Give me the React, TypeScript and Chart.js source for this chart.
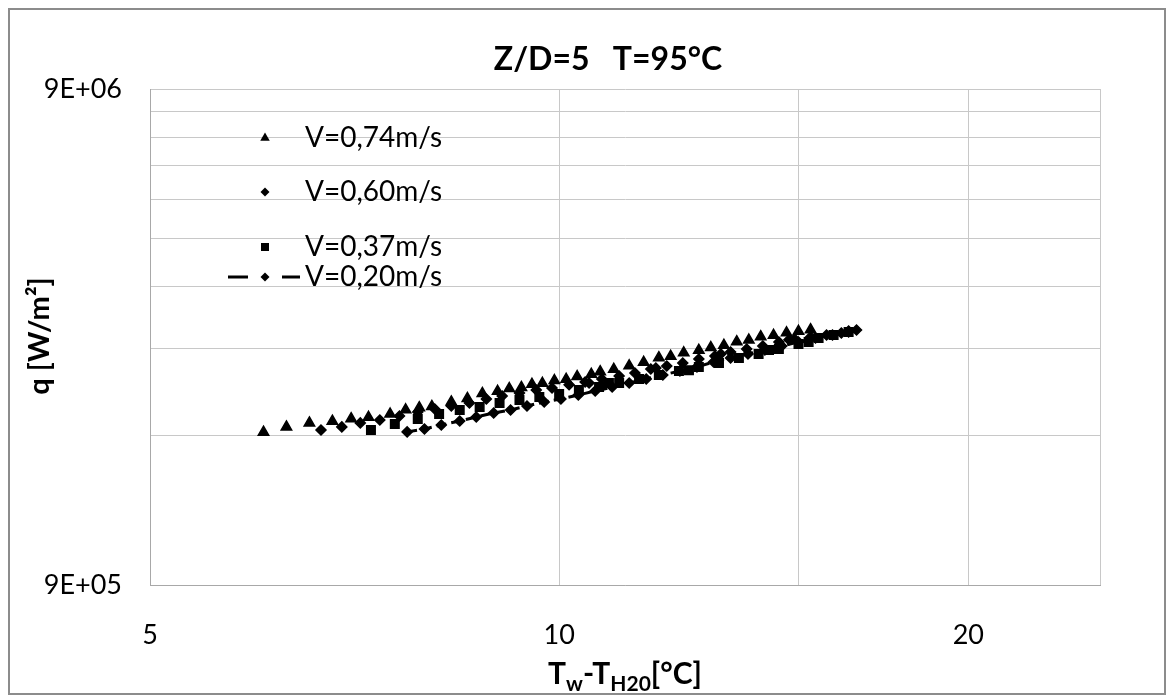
import React, { useEffect, useRef } from 'react';
import { Chart, registerables } from 'chart.js';

Chart.register(...registerables);

const chartTitle = 'Z/D=5   T=95°C';
const seriesLabels = ['V=0,74m/s', 'V=0,60m/s', 'V=0,37m/s', 'V=0,20m/s'];

// V = 0.74 m/s (triangles)
const dT074 = [6.06, 6.30, 6.55, 6.81, 7.03, 7.24, 7.51, 7.71, 7.89, 8.06, 8.33, 8.56, 8.78, 9.01, 9.19, 9.38, 9.55, 9.72, 9.92, 10.12, 10.31, 10.56, 10.72, 10.97, 11.26, 11.54, 11.84, 12.08, 12.35, 12.67, 12.93, 13.22, 13.51, 13.79, 14.07, 14.38, 14.70, 15.00, 15.31];
const q074 = [1.83e6, 1.875e6, 1.91e6, 1.925e6, 1.948e6, 1.96e6, 1.99e6, 2.03e6, 2.05e6, 2.062e6, 2.105e6, 2.14e6, 2.19e6, 2.212e6, 2.24e6, 2.252e6, 2.285e6, 2.296e6, 2.325e6, 2.338e6, 2.368e6, 2.393e6, 2.423e6, 2.45e6, 2.49e6, 2.53e6, 2.585e6, 2.602e6, 2.645e6, 2.676e6, 2.71e6, 2.738e6, 2.785e6, 2.806e6, 2.85e6, 2.868e6, 2.902e6, 2.922e6, 2.945e6];

// V = 0.60 m/s (diamonds)
const dT060 = [6.68, 6.92, 7.14, 7.38, 7.63, 7.87, 8.10, 8.33, 8.59, 8.84, 9.08, 9.35, 9.62, 9.88, 10.17, 10.45, 10.52, 10.75, 11.07, 11.37, 11.68, 11.78, 12.00, 12.33, 12.67, 13.02, 13.15, 13.37, 13.74, 14.12, 14.51, 14.76, 14.90, 15.31, 15.73, 16.13, 16.33, 16.55];
const q060 = [1.848e6, 1.875e6, 1.91e6, 1.936e6, 1.972e6, 2.009e6, 2.037e6, 2.066e6, 2.095e6, 2.134e6, 2.164e6, 2.195e6, 2.225e6, 2.246e6, 2.28e6, 2.31e6, 2.299e6, 2.342e6, 2.375e6, 2.408e6, 2.453e6, 2.465e6, 2.488e6, 2.523e6, 2.57e6, 2.606e6, 2.631e6, 2.655e6, 2.692e6, 2.73e6, 2.781e6, 2.81e6, 2.82e6, 2.846e6, 2.872e6, 2.899e6, 2.926e6, 2.94e6];

// V = 0.37 m/s (squares)
const dT037 = [7.27, 7.57, 7.87, 8.16, 8.45, 8.74, 9.04, 9.35, 9.67, 10.00, 10.34, 10.70, 10.88, 11.07, 11.45, 11.84, 12.25, 12.46, 12.67, 13.11, 13.56, 14.02, 14.27, 14.51, 15.00, 15.26, 15.52, 15.92, 16.33];
const q037 = [1.848e6, 1.901e6, 1.945e6, 1.991e6, 2.028e6, 2.056e6, 2.095e6, 2.124e6, 2.154e6, 2.185e6, 2.225e6, 2.256e6, 2.299e6, 2.299e6, 2.342e6, 2.386e6, 2.431e6, 2.44e6, 2.477e6, 2.523e6, 2.582e6, 2.631e6, 2.68e6, 2.692e6, 2.755e6, 2.781e6, 2.833e6, 2.872e6, 2.913e6];

// V = 0.20 m/s (diamonds + dashed line)
const dT020 = [7.73, 7.96, 8.19, 8.45, 8.69, 8.95, 9.21, 9.47, 9.75, 10.03, 10.33, 10.63, 10.94, 11.26, 11.59, 11.92, 12.27, 12.63, 12.99, 13.37, 13.77, 14.17, 14.58, 15.00, 15.44, 15.89, 16.33];
const q020 = [1.832e6, 1.857e6, 1.892e6, 1.927e6, 1.963e6, 2.0e6, 2.028e6, 2.066e6, 2.105e6, 2.134e6, 2.174e6, 2.215e6, 2.256e6, 2.299e6, 2.342e6, 2.386e6, 2.431e6, 2.477e6, 2.534e6, 2.582e6, 2.631e6, 2.68e6, 2.73e6, 2.781e6, 2.833e6, 2.872e6, 2.913e6];

const xTickValues = [5, 10, 15, 20, 25];
const xTickLabels = ['5', '10', '', '20', ''];
const yTickValues = [9e5, 1.8e6, 2.7e6, 3.6e6, 4.5e6, 5.4e6, 6.3e6, 7.2e6, 8.1e6, 9e6];
const yTickLabels = ['9E+05', '', '', '', '', '', '', '', '', '9E+06'];

const FONT = 'Lato, "Open Sans", sans-serif';

function drawMarker(ctx: CanvasRenderingContext2D, kind: string, x: number, y: number) {
  ctx.beginPath();
  if (kind === 'triangle') {
    const r = 5.5;
    ctx.moveTo(x, y - r);
    ctx.lineTo(x + r * 0.866, y + r * 0.5);
    ctx.lineTo(x - r * 0.866, y + r * 0.5);
  } else if (kind === 'rect') {
    ctx.rect(x - 4, y - 4, 8, 8);
  } else {
    const r = 4.5;
    ctx.moveTo(x - r, y);
    ctx.lineTo(x, y - r);
    ctx.lineTo(x + r, y);
    ctx.lineTo(x, y + r);
  }
  ctx.closePath();
  ctx.fill();
}

const overlayPlugin = {
  id: 'overlay',
  afterDraw(chart: any) {
    const ctx: CanvasRenderingContext2D = chart.ctx;
    const area = chart.chartArea;
    ctx.save();
    ctx.fillStyle = '#000';
    ctx.strokeStyle = '#000';

    // chart title
    ctx.font = `bold 32px ${FONT}`;
    ctx.textAlign = 'center';
    ctx.textBaseline = 'middle';
    ctx.fillText(chartTitle, 598, 50);

    // y axis title
    ctx.save();
    ctx.translate(30, 326);
    ctx.rotate(-Math.PI / 2);
    ctx.font = `bold 29px ${FONT}`;
    ctx.textAlign = 'center';
    ctx.textBaseline = 'middle';
    ctx.fillText('q [W/m²]', 0, 0);
    ctx.restore();

    // x axis title with subscripts
    const parts = [
      { t: 'T', sub: false },
      { t: 'w', sub: true },
      { t: '-T', sub: false },
      { t: 'H20', sub: true },
      { t: '[°C]', sub: false },
    ];
    const mainFont = `bold 30px ${FONT}`;
    const subFont = `bold 21px ${FONT}`;
    let total = 0;
    parts.forEach((p) => {
      ctx.font = p.sub ? subFont : mainFont;
      total += ctx.measureText(p.t).width;
    });
    let cx = (area.left + area.right) / 2 - total / 2;
    const baseY = 674;
    ctx.textAlign = 'left';
    ctx.textBaseline = 'alphabetic';
    parts.forEach((p) => {
      ctx.font = p.sub ? subFont : mainFont;
      ctx.fillText(p.t, cx, p.sub ? baseY + 7 : baseY);
      cx += ctx.measureText(p.t).width;
    });

    // legend
    const legendY = [128, 182, 237, 267];
    const kinds = ['triangle', 'rectRot', 'rect', 'rectRot'];
    ctx.font = `28px ${FONT}`;
    ctx.textBaseline = 'middle';
    legendY.forEach((ly, i) => {
      drawMarker(ctx, kinds[i], 255, ly);
      ctx.fillText(seriesLabels[i], 295, ly);
    });
    ctx.lineWidth = 3;
    ctx.beginPath();
    ctx.moveTo(218, 267);
    ctx.lineTo(238, 267);
    ctx.moveTo(272, 267);
    ctx.lineTo(290, 267);
    ctx.stroke();

    ctx.restore();
  },
};

export default function App() {
  const canvasRef = useRef<HTMLCanvasElement | null>(null);

  useEffect(() => {
    const canvas = canvasRef.current;
    if (!canvas) return;
    const mk = (xs: number[], ys: number[]) => xs.map((x, i) => ({ x, y: ys[i] }));
    const chart = new Chart(canvas, {
      type: 'scatter',
      data: {
        datasets: [
          {
            label: seriesLabels[0],
            data: mk(dT074, q074),
            pointStyle: 'triangle',
            pointRadius: 6,
            backgroundColor: '#000',
            borderColor: '#000',
            borderWidth: 1.5,
            showLine: false,
          },
          {
            label: seriesLabels[1],
            data: mk(dT060, q060),
            pointStyle: 'rectRot',
            pointRadius: 5,
            backgroundColor: '#000',
            borderColor: '#000',
            borderWidth: 1.5,
            showLine: false,
          },
          {
            label: seriesLabels[2],
            data: mk(dT037, q037),
            pointStyle: 'rect',
            pointRadius: 6,
            backgroundColor: '#000',
            borderColor: '#000',
            borderWidth: 1.5,
            showLine: false,
          },
          {
            label: seriesLabels[3],
            data: mk(dT020, q020),
            pointStyle: 'rectRot',
            pointRadius: 5,
            backgroundColor: '#000',
            borderColor: '#000',
            pointBorderWidth: 1.5,
            borderWidth: 3,
            borderDash: [10, 5],
            showLine: true,
          } as any,
        ],
      },
      options: {
        responsive: false,
        animation: false,
        layout: { padding: { left: 0, right: 64, top: 79, bottom: 0 } },
        plugins: {
          legend: { display: false },
          title: { display: false },
          tooltip: { enabled: false },
        },
        scales: {
          x: {
            type: 'logarithmic',
            min: 5,
            max: 25,
            afterBuildTicks: (s: any) => {
              s.ticks = xTickValues.map((v) => ({ value: v }));
            },
            afterFit: (s: any) => {
              s.height = 108;
            },
            grid: { color: '#c8c8c8', lineWidth: 1, drawTicks: false },
            border: { color: '#a8a8a8', width: 1 },
            ticks: {
              autoSkip: false,
              maxRotation: 0,
              padding: 34,
              color: '#000',
              font: { family: FONT, size: 27 },
              callback: (v: any) => {
                const i = xTickValues.indexOf(Number(v));
                return i >= 0 ? xTickLabels[i] : '';
              },
            },
          },
          y: {
            type: 'logarithmic',
            min: 9e5,
            max: 9e6,
            afterBuildTicks: (s: any) => {
              s.ticks = yTickValues.map((v) => ({ value: v }));
            },
            afterFit: (s: any) => {
              s.width = 140;
            },
            grid: { color: '#c8c8c8', lineWidth: 1, drawTicks: false },
            border: { color: '#a8a8a8', width: 1 },
            ticks: {
              autoSkip: false,
              padding: 28,
              color: '#000',
              font: { family: FONT, size: 27 },
              callback: (v: any) => {
                const i = yTickValues.indexOf(Number(v));
                return i >= 0 ? yTickLabels[i] : '';
              },
            },
          },
        },
      } as any,
      plugins: [overlayPlugin],
    });
    return () => chart.destroy();
  }, []);

  return (
    <div style={{ width: 1154, height: 683, border: '2px solid #8c8c8c', background: '#fff' }}>
      <canvas ref={canvasRef} width={1154} height={683} style={{ display: 'block' }} />
    </div>
  );
}
